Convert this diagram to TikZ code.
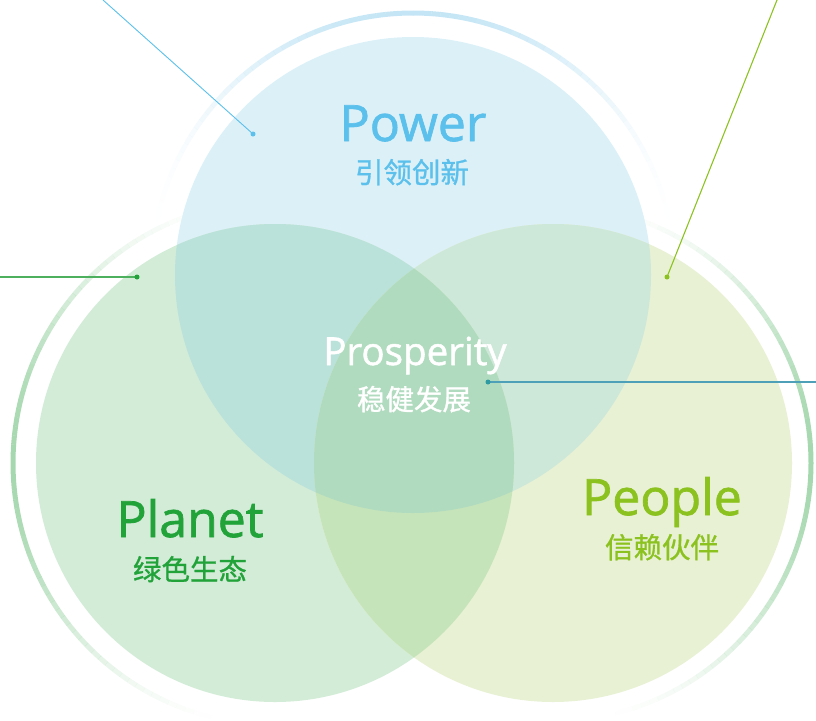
\documentclass[tikz,border=0pt]{standalone}
\usepackage{fontspec}
\setmainfont{Open Sans}[RawFeature={embolden=1.4}]
\newfontfamily\cjk{Noto Sans CJK SC}[RawFeature={embolden=1.0}]

\definecolor{powfill}{HTML}{DCF0F8}
\definecolor{plafill}{HTML}{D3ECD7}
\definecolor{peofill}{HTML}{E8F1D4}
\definecolor{powpla}{HTML}{BAE2DA}
\definecolor{powpeo}{HTML}{CDE8D9}
\definecolor{plapeo}{HTML}{C6E4BA}
\definecolor{allthree}{HTML}{B0DBBF}
\definecolor{powring}{HTML}{C4E5F5}
\definecolor{grnring}{HTML}{A6D8AF}
\definecolor{powtext}{HTML}{5BC0EB}
\definecolor{platext}{HTML}{22A33A}
\definecolor{peotext}{HTML}{8CC220}
\definecolor{plaline}{HTML}{4CB05E}
\definecolor{prosline}{HTML}{4E9FB8}
\definecolor{prosdot}{HTML}{2E9AA2}

\tikzset{
  ring/.style={line width=5pt},
  title/.style={anchor=base, inner sep=0pt, font=\fontsize{50}{50}\selectfont},
  subtitle/.style={anchor=base, inner sep=0pt, font=\cjk\fontsize{28.5}{28.5}\selectfont},
  dot/.style={circle, inner sep=0pt, minimum size=5pt},
  leader/.style={line width=1.1pt}
}

% halo ring that fades away from its brightest direction:
% #1 centre, #2 radius, #3 direction of full strength, #4 colour
\newcommand{\haloring}[4]{%
  \begin{scope}[shift={(#1)}]
    \foreach \t in {-90,-88,...,88} {
      \pgfmathsetmacro{\op}{cos(\t+1)^3}
      \pgfmathsetmacro{\sa}{#3+\t}
      \draw[ring, #4, draw opacity=\op] (\sa:#2) arc[start angle=\sa, delta angle=2.05, radius=#2];
    }
  \end{scope}%
}

\begin{document}
\begin{tikzpicture}[x=1pt,y=-1pt]
\useasboundingbox (0,0) rectangle (816,720);

\coordinate (cPow) at (413,275);
\coordinate (cPla) at (275,463);
\coordinate (cPeo) at (553,463);

% outer halo rings (y grows downwards, so -90 points up)
\haloring{cPow}{262}{-90}{powring}
\haloring{cPla}{262}{180}{grnring}
\haloring{cPeo}{258}{0}{grnring}

% the three circles
\fill[powfill] (cPow) circle[radius=238pt];
\fill[plafill] (cPla) circle[radius=239pt];
\fill[peofill] (cPeo) circle[radius=239pt];

% pairwise overlaps and the common centre
\begin{scope}
  \clip (cPow) circle[radius=238pt];
  \fill[powpla] (cPla) circle[radius=239pt];
  \fill[powpeo] (cPeo) circle[radius=239pt];
\end{scope}
\begin{scope}
  \clip (cPla) circle[radius=239pt];
  \fill[plapeo] (cPeo) circle[radius=239pt];
  \clip (cPeo) circle[radius=239pt];
  \fill[allthree] (cPow) circle[radius=238pt];
\end{scope}

% labels
\node[title, text=powtext] (tPow) at (413,141) {Power};
\node[subtitle, text=powtext] (sPow) at (412,183) {引领创新};
\node[title, text=white, font=\fontsize{38.5}{38.5}\selectfont] (tPros) at (415,365) {Prosperity};
\node[subtitle, text=white] (sPros) at (414,410) {稳健发展};
\node[title, text=platext] (tPla) at (190,537) {Planet};
\node[subtitle, text=platext] (sPla) at (190,580) {绿色生态};
\node[title, text=peotext] (tPeo) at (662,515) {People};
\node[subtitle, text=peotext] (sPeo) at (662,558) {信赖伙伴};

% leader lines with their anchor dots
\coordinate (ePow) at (103,0);
\coordinate (ePla) at (0,277);
\coordinate (ePeo) at (777,0);
\coordinate (ePros) at (816,382);

\draw[leader, powtext, line width=0.9pt] (ePow) -- (253,134) node[dot, fill=powtext] (dPow) {};
\draw[leader, plaline, line width=1.4pt] (ePla) -- (137,277) node[dot, fill=platext] (dPla) {};
\draw[leader, peotext] (ePeo) -- (667,277) node[dot, fill=peotext] (dPeo) {};
\draw[leader, prosline, line width=1.4pt] (ePros) -- (488,382) node[dot, fill=prosdot] (dPros) {};
\end{tikzpicture}
\end{document}
